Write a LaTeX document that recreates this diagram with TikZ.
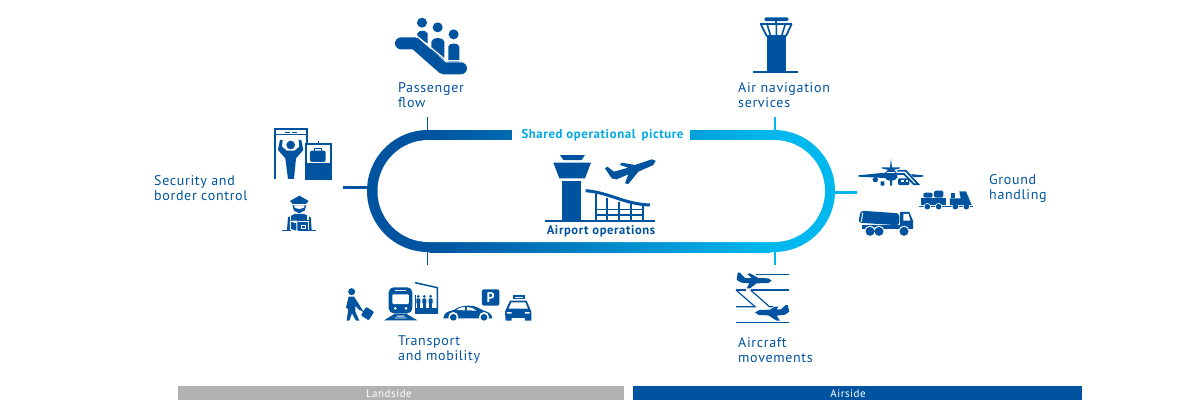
\documentclass[tikz,border=0pt]{standalone}
\usepackage{fontspec}
\setmainfont[LetterSpace=4.8]{PT Sans}
\usetikzlibrary{calc}
\definecolor{dk}{HTML}{00539F}
\definecolor{lt}{HTML}{00B8EE}
\definecolor{grayb}{HTML}{B2B2B2}
\tikzset{
  lbl/.style={anchor=west,inner sep=0pt,align=left,text=dk,font=\fontsize{14}{15}\selectfont},
  barlbl/.style={inner sep=0pt,text=white,font=\fontsize{11}{12}\selectfont},
  dktick/.style={draw=dk,line width=1.6pt},
  lttick/.style={draw=lt,line width=2.6pt},
  zoomed/.style={x=0.3333pt,y=-0.3333pt}
}
\begin{document}
\begin{tikzpicture}[x=1pt,y=-1pt]
\useasboundingbox (0,0) rectangle (1200,400);
% track
\begin{scope}
\clip (367,125) rectangle (430,257);
\fill[dk,rounded corners=61pt] (367,130) rectangle (835,252);
\end{scope}
\begin{scope}
\clip (770,125) rectangle (835,257);
\fill[lt,rounded corners=61pt] (367,130) rectangle (835,252);
\end{scope}
\shade[left color=dk,right color=lt] (429.5,130) rectangle (770.5,252);
\fill[white,rounded corners=51pt] (377.5,140) rectangle (825,242);
\fill[white] (512,128) rectangle (690,142);
% anchors on the track
\coordinate (tl) at (427.5,130);
\coordinate (tr) at (775,130);
\coordinate (bl) at (427.5,252);
\coordinate (br) at (775,252);
\coordinate (ml) at (368,187.5);
\coordinate (mr) at (835,192.5);
\coordinate (tle) at (427.5,117);
\coordinate (tre) at (775,117);
\coordinate (ble) at (427.5,265);
\coordinate (bre) at (775,265);
\coordinate (mle) at (343,187.5);
\coordinate (mre) at (857,192.5);
\draw[dktick] (tl) -- (tle);
\draw[dktick] (bl) -- (ble);
\draw[dk,line width=3pt] (ml) -- (mle);
\draw[lttick] (tr) -- (tre);
\draw[lttick] (br) -- (bre);
\draw[lt,line width=3pt] (mr) -- (mre);
% labels
\node[inner sep=0pt,text=lt!85!dk,font=\fontsize{12.8}{15}\selectfont\bfseries] (shared) at (602.5,135.5) {Shared operational\, picture};
\node[inner sep=0pt,text=dk,font=\fontsize{12.6}{15}\selectfont\bfseries] (apt) at (601,231) {Airport operations};
\node[lbl] (pax) at (398,95) {Passenger\\flow};
\node[lbl] (air) at (738,95) {Air navigation\\services};
\node[lbl] (sec) at (154,188) {Security and\\border control};
\node[lbl] (gnd) at (989,188) {Ground\\handling};
\node[lbl] (trn) at (398,350) {Transport\\and mobility};
\node[lbl] (mov) at (738,350) {Aircraft\\movements};
% bars
\fill[grayb] (178,386) rectangle (624,400);
\fill[dk] (633,386) rectangle (1082,400);
\node[barlbl] (land) at (389,393.5) {Landside};
\node[barlbl] (airs) at (848,393.5) {Airside};
% escalator + security + officer
\begin{scope}[shift={(260,0)},zoomed]
\fill[dk] (486,68) circle (15);
\fill[dk] (533,82) circle (15);
\fill[dk] (581,103) circle (15);
\fill[dk] (472,100) to[out=60,in=120] (503,100) -- (503,130) -- (472,115) -- cycle;
\fill[dk] (514,150) -- (514,125) to[out=80,in=100] (553,125) -- (553,180) -- cycle;
\fill[dk] (565,185) -- (565,140) to[out=80,in=100] (598,140) -- (598,185) -- cycle;
\draw[dk,line width=12pt,line cap=round,line join=round] (423,130) -- (465,130) -- (550,205) -- (603,205);
\draw[white,line width=1.2pt] (470,108) -- (560,182) -- (605,182);
\draw[dk,line width=1.7pt] (44,537) -- (44,387) -- (140,387) -- (140,432);
\draw[dk,line width=1.2pt] (44,404) -- (140,404);
\draw[dk,line width=1pt] (76,398) -- (90,398) (96,398) -- (110,398);
\fill[dk] (92,435) circle (13);
\fill[dk] (54,450) -- (60,420) -- (68,420) -- (66,440) -- (80,452) -- (104,452) -- (118,440) -- (116,420) -- (124,420) -- (130,450) -- (108,475) -- (102,537) -- (84,537) -- (76,475) -- cycle;
\draw[dk,line width=1.7pt] (138,432) rectangle (212,537);
\fill[dk] (138,490) rectangle (212,537);
\draw[dk,line width=1.2pt] (175,432) -- (175,424);
\fill[dk,rounded corners=1.5pt] (150,452) rectangle (197,486);
\draw[dk,line width=1pt] (163,452) -- (163,446) -- (184,446) -- (184,452);
% officer
\fill[dk] (118,587) -- (146,603) -- (138,612) -- (98,612) -- (90,603) -- cycle;
\fill[dk] (97,616) -- (139,616) -- (134,632) -- (118,640) -- (102,632) -- cycle;
\fill[white] (103,622) .. controls (112,628) and (124,628) .. (133,622) -- (133,616) -- (103,616) -- cycle;
\fill[dk] (81,690) -- (84,652) -- (104,642) -- (132,642) -- (152,652) -- (155,690) -- cycle;
\fill[white] (90,648) -- (94,648) -- (94,660) -- (90,660) -- cycle;
\fill[white] (142,648) -- (146,648) -- (146,660) -- (142,660) -- cycle;
\fill[white] (90,662) -- (112,662) -- (112,696) -- (90,690) -- cycle;
\fill[dk] (93,666) -- (109,670) -- (109,692) -- (93,687) -- cycle;
\fill[white] (113,664) rectangle (146,694);
\fill[dk] (115,666) rectangle (144,693);
\draw[white,line width=.7pt] (124,676) rectangle (135,685);
\draw[dk,line width=1.1pt] (67,692) -- (92,692) (144,692) -- (167,692);
\end{scope}
% central icon
\begin{scope}[shift={(500,120)},zoomed]
\fill[dk] (180,105) -- (255,105) -- (245,120) -- (190,120) -- cycle;
\fill[dk] (160,128) -- (273,128) -- (255,175) -- (178,175) -- cycle;
\fill[dk] (187,183) rectangle (242,303);
\draw[dk,line width=2pt] (135,303) -- (465,303);
\draw[dk,line width=3pt] (257,212) .. controls (330,218) and (370,252) .. (450,255);
\foreach \xx/\yy in {287/218,322/233,357/247,392/253,428/255}
  \draw[dk,line width=1.8pt] (\xx,\yy) -- (\xx,301);
\draw[dk,line width=1.4pt] (287,268) -- (428,268) (287,285) -- (428,285);
\fill[dk] (467,122) -- (460,135) -- (415,155) -- (385,192) -- (375,190) -- (385,163) -- (350,178) -- (335,175) -- (315,145) -- (322,140) -- (342,155) -- (385,143) -- (360,135) -- (365,128) -- (405,135) -- (455,118) -- cycle;
\end{scope}
% transport
\begin{scope}[shift={(330,250)},zoomed]
\fill[dk] (65,125) circle (10.5);
\fill[dk] (56,140) -- (72,140) -- (82,155) -- (96,178) -- (90,182) -- (76,168) -- (76,185) -- (88,212) -- (78,212) -- (66,190) -- (58,212) -- (50,212) -- (55,178) -- (48,172) -- cycle;
\draw[dk,line width=1.2pt] (92,178) -- (104,188);
\fill[dk,rotate around={-32:(113,190)},rounded corners=1pt] (99,176) rectangle (127,206);
% train
\fill[dk,rounded corners=5pt] (176,112) rectangle (247,190);
\fill[white,rounded corners=1pt] (187,133) rectangle (237,162);
\fill[white] (195,119) rectangle (229,124);
\fill[white] (196,175) circle (4.5) (228,175) circle (4.5);
\fill[dk] (195,191) -- (229,191) -- (262,211) -- (162,211) -- cycle;
\fill[white] (200,197) rectangle (224,199.5) (194,203) rectangle (230,205.5);
% shelter
\draw[dk,line width=1.5pt] (255,98) -- (322,113) -- (322,190);
\draw[dk,line width=1.5pt] (256,135) -- (256,190);
\fill[dk] (255,173) rectangle (323,192);
\foreach \xx in {265,283,302}{
 \fill[dk] (\xx,139) circle (4.5);
 \fill[dk,rounded corners=1pt] (\xx-6,145) rectangle (\xx+6,162);
 \fill[dk] (\xx-4,160) rectangle (\xx+4,175);
}
% car
\fill[dk] (340,205) .. controls (342,188) and (355,183) .. (372,180) .. controls (385,168) and (410,165) .. (430,168) .. controls (445,172) and (455,180) .. (465,183) .. controls (478,186) and (486,195) .. (487,205) -- cycle;
\fill[white] (380,180) .. controls (388,172) and (398,171) .. (405,171) -- (405,181) -- cycle;
\fill[white] (411,171) .. controls (422,171) and (432,175) .. (440,182) -- (411,181) -- cycle;
\fill[white] (370,201) circle (15) (462,201) circle (15);
\fill[dk] (370,202) circle (10) (462,202) circle (10);
\fill[dk,rounded corners=2pt] (456,118) rectangle (508,167);
\node[inner sep=0pt,text=white,font=\fontsize{14}{14}\selectfont\bfseries] (park) at (482,142.5) {P};
% taxi
\fill[dk] (548,135) rectangle (584,148);
\fill[white] (554,140) rectangle (578,144);
\fill[dk] (527,212) -- (525,185) -- (540,152) -- (590,152) -- (604,185) -- (604,212) -- (585,212) -- (585,204) -- (545,204) -- (545,212) -- cycle;
\fill[white] (544,157) -- (586,157) -- (594,176) -- (536,176) -- cycle;
\fill[white] (531,186) rectangle (545,191) (585,186) rectangle (599,191);
\end{scope}
% aircraft movements
\begin{scope}[shift={(720,250)},zoomed]
\draw[dk,line width=1.2pt] (107,73) -- (208,73) (48,120) -- (78,120) (92,120) -- (208,120) (48,217) -- (208,217);
\draw[dk,line width=1.2pt] (48,120) -- (105,170) -- (48,170);
\draw[dk,line width=1.2pt] (92,120) -- (148,170) -- (160,170);
\fill[dk] (50,90) -- (53,68) -- (60,68) -- (75,84) -- (95,84) -- (82,72) -- (90,70) -- (115,84) -- (145,85) -- (155,92) -- (145,99) -- (110,100) -- (90,115) -- (80,115) -- (88,100) -- (65,98) -- cycle;
\fill[dk] (208,185) -- (203,165) -- (197,165) -- (183,178) -- (170,178) -- (175,170) -- (165,170) -- (150,179) -- (118,180) -- (105,187) -- (116,195) -- (145,196) -- (170,212) -- (180,212) -- (170,197) -- (195,194) -- cycle;
\end{scope}
% ground handling
\begin{scope}[shift={(840,150)},zoomed]
% front plane
\fill[dk] (55,76) -- (135,68) -- (171,68) -- (250,76) -- (250,80) -- (171,84) -- (135,84) -- (55,80) -- cycle;
\fill[dk] (150,52) -- (153,25) -- (156,52) -- (180,52) -- (180,55) -- (160,60) -- (146,60) -- (125,55) -- (125,52) -- cycle;
\fill[dk] (135,78) .. controls (135,50) and (171,50) .. (171,78) .. controls (171,98) and (135,98) .. (135,78) -- cycle;
\fill[white] (140,66) rectangle (166,70);
\fill[dk] (106,89) circle (8);
\fill[dk] (122,94) rectangle (133,107) (150,92) rectangle (156,107);
\fill[white] (172,58) -- (200,58) -- (240,105) -- (172,105) -- cycle;
\draw[dk,line width=1.8pt] (172,62) -- (197,62) -- (235,103) -- (222,103) -- (192,72) -- (172,72);
\fill[dk,rounded corners=1pt] (174,85) rectangle (208,105);
\fill[white] (182,90) rectangle (192,96);
\fill[white] (198,90) rectangle (205,96);
% tug
\fill[dk] (243,143) rectangle (318,165);
\fill[dk,rounded corners=2pt] (250,128) rectangle (278,143) (282,122) rectangle (310,143);
\draw[dk,line width=1pt] (238,168) -- (400,168);
\fill[white] (262,170) circle (11) (296,170) circle (11) (346,170) circle (11) (379,170) circle (11);
\fill[dk] (262,170) circle (8.5) (296,170) circle (8.5) (346,170) circle (8.5) (379,170) circle (8.5);
\fill[dk] (330,165) -- (330,145) -- (362,145) -- (358,124) -- (378,124) -- (395,165) -- cycle;
\fill[dk] (333,130) rectangle (344,145);
% truck
\fill[dk] (67,226) rectangle (219,237);
\fill[dk,rounded corners=3pt] (55,218) -- (62,182) -- (178,190) -- (178,226) -- cycle;
\draw[white,line width=1pt] (68,188) -- (64,216);
\fill[dk] (180,186) -- (208,186) -- (219,212) -- (219,235) -- (180,235) -- cycle;
\fill[white] (190,192) -- (206,192) -- (211,212) -- (190,212) -- cycle;
\fill[white] (90,244) circle (17) (117,244) circle (17) (192,244) circle (17);
\fill[dk] (90,244) circle (13.5) (117,244) circle (13.5) (192,244) circle (13.5);
\end{scope}
% control tower
\begin{scope}[shift={(730,0)},zoomed]
\fill[dk,rounded corners=2pt] (103,52) rectangle (176,63);
\fill[dk] (135,63) rectangle (142,72);
\draw[dk,line width=2pt] (90,72) -- (187,72);
\draw[dk,line width=1.8pt] (92,72) -- (110,108) (185,72) -- (168,108) (110,108) -- (168,108);
\draw[dk,line width=1.6pt] (111,72) -- (122,108) (166,72) -- (155,108) (139,72) -- (139,108);
\fill[dk] (110,108) rectangle (168,215);
\draw[dk,line width=2pt] (70,216) -- (205,216);
\end{scope}
\end{tikzpicture}
\end{document}
